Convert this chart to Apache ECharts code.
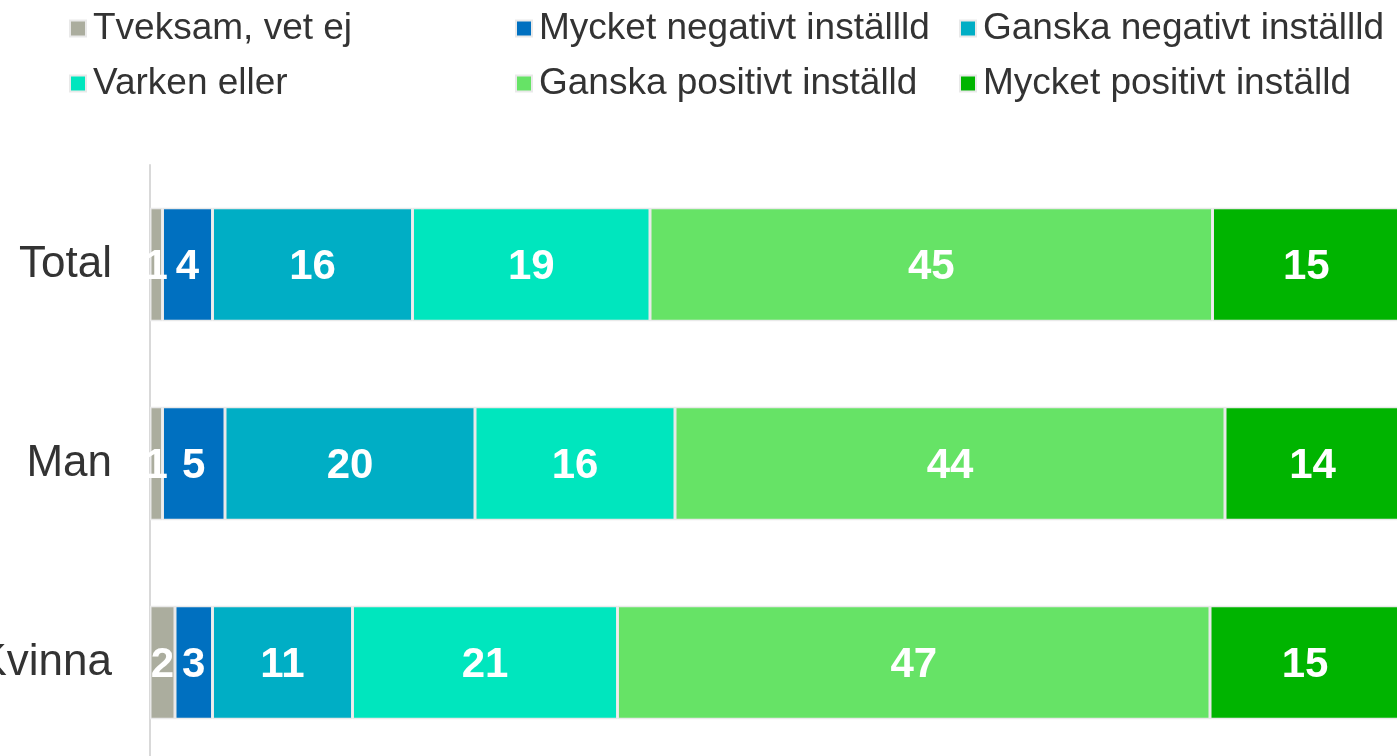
<!DOCTYPE html>
<html>
<head>
<meta charset="utf-8">
<script src="https://cdn.jsdelivr.net/npm/echarts@6/dist/echarts.min.js"></script>
<style>
  html, body { margin: 0; padding: 0; background: #fff; }
  #chart { width: 1397px; height: 756px; }
</style>
</head>
<body>
<div id="chart"></div>
<script>
  // data
  const categories = ['Total', 'Man', 'Kvinna'];
  const seriesNames = ['Tveksam, vet ej', 'Mycket negativt inställld', 'Ganska negativt inställld',
                       'Varken eller', 'Ganska positivt inställd', 'Mycket positivt inställd'];
  const tveksam = [1, 1, 2];
  const mycketNeg = [4, 5, 3];
  const ganskaNeg = [16, 20, 11.2];
  const varken = [19, 16, 21.2];
  const ganskaPos = [45, 44, 47.4];
  const mycketPos = [15, 14, 15.2];

  const colors = ['#abad9e', '#0070c0', '#00aec5', '#00e6be', '#66e366', '#00b400'];
  const values = [tveksam, mycketNeg, ganskaNeg, varken, ganskaPos, mycketPos];

  let chart = echarts.init(document.getElementById('chart'));

  const font = '"Liberation Sans", Arial, sans-serif';

  // one legend per item so the columns line up like the original
  const legendPos = [[64, 5], [510, 5], [954, 5], [64, 60], [510, 60], [954, 60]];
  const legends = seriesNames.map((name, i) => ({
    data: [name],
    left: legendPos[i][0],
    top: legendPos[i][1],
    itemWidth: 16,
    itemHeight: 16,
    itemGap: 0,
    icon: 'rect',
    textStyle: { fontFamily: font, fontSize: 37, color: '#333', padding: [0, 0, 0, 2] }
  }));

  const seriesList = seriesNames.map((name, i) => ({
    name: name,
    type: 'bar',
    stack: 'all',
    barWidth: '57%',
    data: values[i],
    itemStyle: { color: colors[i], borderColor: '#e9e9e9', borderWidth: 1.5 },
    label: {
      show: true,
      position: 'inside',
      offset: [0, 3],
      color: '#fff',
      fontFamily: font,
      fontWeight: 'bold',
      fontSize: 42,
      formatter: (p) => Math.round(p.value)
    }
  }));

  chart.setOption({
    animation: false,
    color: colors,
    legend: legends,
    grid: { left: 150, right: -3, top: 165, bottom: -6, outerBoundsMode: 'none', containLabel: false },
    xAxis: { type: 'value', min: 0, max: 100, show: false },
    yAxis: {
      type: 'category',
      data: categories,
      inverse: true,
      axisLine: { show: true, lineStyle: { color: '#d9d9d9', width: 2 } },
      axisTick: { show: false },
      axisLabel: { fontFamily: font, fontSize: 44, color: '#333', margin: 38 }
    },
    series: seriesList
  });
</script>
</body>
</html>
